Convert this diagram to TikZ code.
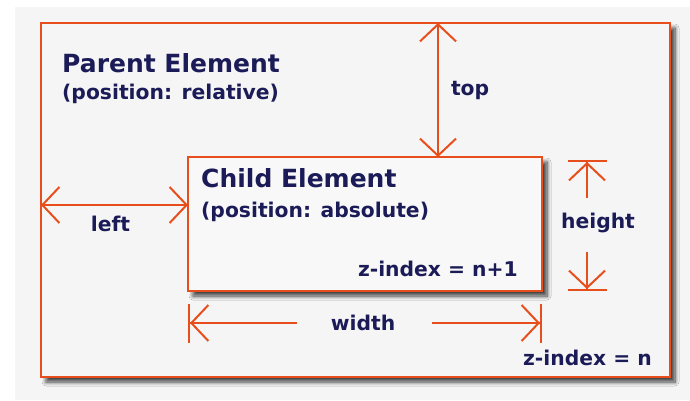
\documentclass[tikz,border=0pt]{standalone}
\usepackage{fontspec}
\setmainfont{DejaVu Sans}
\usetikzlibrary{arrows.meta,positioning,shadows.blur,calc}
\definecolor{edge}{RGB}{232,78,27}
\definecolor{ink}{RGB}{27,27,87}
\definecolor{paper}{RGB}{245,245,245}
\definecolor{card}{RGB}{248,248,248}

\begin{document}
\begin{tikzpicture}[
  x=1pt, y=-1pt, text=ink,
  box/.style={draw=edge, line width=2pt, inner sep=0pt, outer sep=0pt, anchor=north west,
    blur shadow={shadow xshift=5pt, shadow yshift=-5pt, shadow blur radius=4pt,
      shadow blur steps=8, shadow opacity=75}},
  big/.style={font=\fontsize{25}{30}\selectfont\bfseries, anchor=base west, inner sep=0pt},
  small/.style={font=\fontsize{20.3}{24}\selectfont\bfseries, inner sep=0pt},
  dim/.style={draw=edge, line width=2pt,
    {Straight Barb[length=17pt,width=36pt]}-{Straight Barb[length=17pt,width=36pt]}},
  tee/.style={draw=edge, line width=2pt,
    -{Straight Barb[length=17pt,width=36pt] Bar[width=39pt]}}
]
\useasboundingbox (0,0) rectangle (690,400);
\fill[paper] (15,7) rectangle (690,400);

% parent and child boxes
\node[box, fill=paper, minimum width=629pt, minimum height=354pt] (parent) at (41,23) {};
\node[box, fill=card, minimum width=354pt, minimum height=134pt] (child) at (188,157) {};

% captions
\node[big] (ptitle) at (62,72) {Parent Element};
\node[small, anchor=base west] (psub) at (62,99) {(position: relative)};
\node[big] (ctitle) at (201,187) {Child Element};
\node[small, anchor=base west] (csub) at (201,217) {(position: absolute)};
\node[small, anchor=base east] (cz) at (518,276) {z-index = n+1};
\node[small, anchor=base east] (pz) at (652,365) {z-index = n};

% top and left offsets
\coordinate (topx) at (438,0);
\draw[dim] (topx |- parent.north) -- (topx |- child.north)
  node[small, midway, right=12pt] (toplbl) {top};
\coordinate (lefty) at (0,205);
\draw[dim] (parent.west |- lefty) -- (child.west |- lefty)
  node[small, midway, below=10pt, xshift=-4pt] (leftlbl) {left};

% height
\coordinate (hu) at (587,198);
\coordinate (hd) at (587,252);
\node[small] (hlbl) at (598,223) {height};
\draw[tee] (hu) -- ($(hu |- child.north)+(0,3)$);
\draw[tee] (hd) -- (hd |- child.south);

% width
\coordinate (wl) at (297,323);
\coordinate (wr) at (432,323);
\node[small] (wlbl) at (363,323) {width};
\draw[tee] (wl) -- (wl -| child.west);
\draw[tee] (wr) -- (wr -| child.east);
\end{tikzpicture}
\end{document}
